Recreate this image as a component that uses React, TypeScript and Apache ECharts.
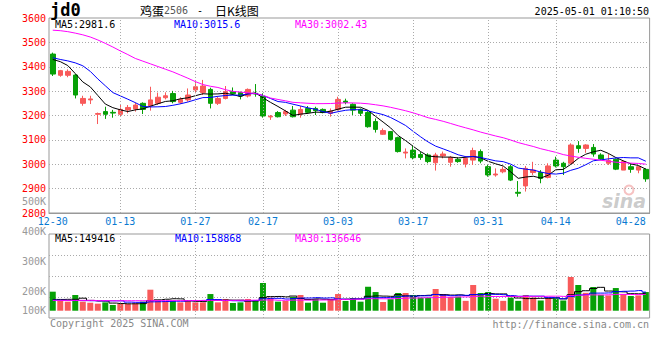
import React, { useEffect, useRef } from 'react';
import * as echarts from 'echarts';

const dates = [
  '12-30', '12-31', '01-02', '01-03', '01-06', '01-07', '01-08', '01-09', '01-10', '01-13',
  '01-14', '01-15', '01-16', '01-17', '01-20', '01-21', '01-22', '01-23', '01-24', '01-27',
  '02-05', '02-06', '02-07', '02-10', '02-11', '02-12', '02-13', '02-14', '02-17', '02-18',
  '02-19', '02-20', '02-21', '02-24', '02-25', '02-26', '02-27', '02-28', '03-03', '03-04',
  '03-05', '03-06', '03-07', '03-10', '03-11', '03-12', '03-13', '03-14', '03-17', '03-18',
  '03-19', '03-20', '03-21', '03-24', '03-25', '03-26', '03-27', '03-28', '03-31', '04-01',
  '04-02', '04-03', '04-07', '04-08', '04-09', '04-10', '04-11', '04-14', '04-15', '04-16',
  '04-17', '04-18', '04-21', '04-22', '04-23', '04-24', '04-25', '04-28', '04-29', '04-30',
];

const opens = [
  3452, 3365, 3365, 3366, 3250, 3264, 3205, 3216, 3213, 3205,
  3223, 3227, 3250, 3239, 3250, 3273, 3290, 3254, 3264, 3305,
  3294, 3307, 3250, 3270, 3298, 3294, 3280, 3291, 3277, 3194,
  3212, 3206, 3222, 3205, 3229, 3229, 3225, 3209, 3225, 3259,
  3246, 3225, 3212, 3175, 3123, 3134, 3109, 3046, 3058, 3040,
  3038, 3006, 3034, 3008, 3020, 3001, 3017, 3052, 2990, 2956,
  2969, 2990, 2885, 2911, 2966, 2966, 2946, 3017, 3004, 3004,
  3076, 3065, 3069, 3038, 3004, 3020, 2976, 2990, 2976, 2979,
];
const closes = [
  3370, 3384, 3381, 3284, 3270, 3268, 3208, 3205, 3210, 3225,
  3233, 3243, 3225, 3264, 3275, 3281, 3257, 3266, 3284, 3318,
  3321, 3250, 3270, 3298, 3290, 3280, 3307, 3288, 3198, 3197,
  3195, 3216, 3195, 3225, 3213, 3220, 3212, 3218, 3266, 3254,
  3222, 3209, 3154, 3143, 3138, 3102, 3052, 3050, 3027, 3028,
  3011, 3038, 3042, 3028, 3011, 3024, 3056, 3013, 2956, 2960,
  2979, 2935, 2881, 2983, 2976, 2942, 2993, 2993, 2990, 3079,
  3065, 3079, 3042, 3022, 3015, 2980, 3011, 2979, 2990, 2940,
];
const lows = [
  3362, 3359, 3357, 3270, 3240, 3247, 3165, 3186, 3191, 3198,
  3209, 3216, 3206, 3220, 3243, 3266, 3250, 3247, 3257, 3291,
  3284, 3229, 3243, 3266, 3284, 3266, 3274, 3277, 3191, 3182,
  3192, 3198, 3192, 3191, 3209, 3202, 3209, 3195, 3220, 3246,
  3202, 3198, 3150, 3130, 3120, 3097, 3048, 3024, 3020, 3018,
  3004, 2974, 3024, 2990, 3006, 2987, 2997, 3004, 2949, 2949,
  2963, 2931, 2867, 2888, 2956, 2922, 2942, 2987, 2956, 3001,
  3047, 3047, 3031, 3017, 2997, 2976, 2976, 2965, 2963, 2928,
];
const highs = [
  3458, 3387, 3389, 3370, 3281, 3281, 3212, 3236, 3223, 3243,
  3243, 3253, 3254, 3318, 3294, 3295, 3301, 3275, 3311, 3339,
  3346, 3314, 3277, 3321, 3315, 3298, 3311, 3329, 3291, 3202,
  3218, 3223, 3239, 3239, 3239, 3236, 3229, 3229, 3277, 3269,
  3250, 3229, 3218, 3188, 3147, 3136, 3113, 3065, 3076, 3050,
  3045, 3047, 3052, 3034, 3028, 3034, 3068, 3061, 2997, 2983,
  2990, 2997, 2931, 2993, 3010, 2976, 3004, 3031, 3010, 3086,
  3095, 3082, 3083, 3045, 3042, 3024, 3015, 3004, 2993, 2983,
];
const volumes = [
  162000, 83000, 77000, 134000, 77000, 68000, 60000, 71000, 49000, 57000,
  57000, 62000, 77000, 179000, 88000, 83000, 83000, 71000, 91000, 71000,
  71000, 142000, 71000, 100000, 66000, 71000, 100000, 83000, 236000, 111000,
  77000, 83000, 117000, 134000, 68000, 100000, 68000, 100000, 142000, 83000,
  108000, 77000, 204000, 159000, 74000, 98000, 151000, 151000, 134000, 111000,
  111000, 185000, 142000, 117000, 120000, 84000, 219000, 151000, 159000, 102000,
  84000, 111000, 84000, 134000, 112000, 87000, 112000, 106000, 87000, 287000,
  219000, 152000, 202000, 135000, 130000, 193000, 142000, 125000, 130000, 159000,
];

// moving-average values before enough history is on screen
const ma5Head = [3430, 3421, 3405, 3372];
const ma10Head = [3437, 3430, 3424, 3416, 3404, 3381, 3350, 3322, 3294];
const ma30Head = [
  3550, 3548, 3544, 3538, 3531, 3522, 3510, 3496, 3481, 3465,
  3450, 3434, 3423, 3412, 3401, 3390, 3379, 3366, 3353, 3339,
  3327, 3320, 3315, 3306, 3299, 3296, 3293, 3290, 3283,
];
const volMa5Head = [96000, 96000, 97000, 97000];
const volMa10Head = [90000, 89000, 88000, 87000, 86000, 85000, 84000, 84000, 84000];
const volMa30Head = [
  88000, 88000, 88000, 88000, 88000, 88000, 86000, 86000, 85000, 85000,
  85000, 85000, 85000, 86000, 86000, 86000, 86000, 86000, 86000, 87000,
  87000, 88000, 88000, 88000, 88000, 89000, 89000, 90000, 91000,
];

const labelDates = ['12-30', '01-13', '01-27', '02-17', '03-03', '03-17', '03-31', '04-14', '04-28'];
const gridDates = ['01-13', '01-27', '02-17', '03-03', '03-17', '03-31', '04-14'];

const priceMin = 2800;
const priceMax = 3600;
const priceStep = 100;
const volLabelMin = 100000;
const volLabelMax = 500000;
const volLabelStep = 100000;

const titleCode = 'jd0';
const titleName = '鸡蛋';
const titleContract = '2506';
const titleDash = '-';
const titleKind = '日K线图';
const timeStamp = '2025-05-01 01:10:50';
const priceMa5Text = 'MA5:2981.6';
const priceMa10Text = 'MA10:3015.6';
const priceMa30Text = 'MA30:3002.43';
const volMa5Text = 'MA5:149416';
const volMa10Text = 'MA10:158868';
const volMa30Text = 'MA30:136646';
const copyrightText = 'Copyright 2025 SINA.COM';
const urlText = 'http://finance.sina.com.cn';

const UP = '#f85a5a';
const DOWN = '#06a006';
const MONO = 'DejaVu Sans Mono';

function movingAvg(values: number[], n: number, head: number[]) {
  return values.map((_, i) => {
    if (i < n - 1) return head[i];
    let s = 0;
    for (let k = i - n + 1; k <= i; k++) s += values[k];
    return Math.round((s / n) * 100) / 100;
  });
}

function txt(text: string, x: number, y: number, fill: string, font: string, align = 'left') {
  return {
    type: 'text',
    x,
    y,
    silent: true,
    style: { text, fill, font, textAlign: align, textVerticalAlign: 'middle' },
  };
}

const dotted = { color: '#aaa', type: [1, 2], width: 1 };

export default function App() {
  const ref = useRef<HTMLDivElement>(null);
  useEffect(() => {
    const chart = echarts.init(ref.current!, null, { renderer: 'svg' });
    const candle = dates.map((_, i) => [opens[i], closes[i], lows[i], highs[i]]);
    const volData = volumes.map((v, i) => ({
      value: v,
      itemStyle: { color: closes[i] >= opens[i] ? UP : DOWN },
    }));
    const vLines = {
      silent: true,
      symbol: ['none', 'none'],
      label: { show: false },
      lineStyle: dotted,
      emphasis: { disabled: true },
      data: gridDates.map((d) => ({ xAxis: d })),
    };
    const line = (data: number[], color: string, xi: number, yi: number, step?: string) => ({
      type: 'line',
      data,
      xAxisIndex: xi,
      yAxisIndex: yi,
      showSymbol: false,
      symbol: 'none',
      step: step || false,
      silent: true,
      lineStyle: { color, width: 1 },
      itemStyle: { color },
    });
    const option: any = {
      animation: false,
      backgroundColor: '#fff',
      grid: [
        { left: 49, top: 18, width: 600.6, height: 195, show: true, borderColor: '#999', borderWidth: 1 },
        { left: 49, top: 234, width: 600.6, height: 84, show: true, borderColor: '#999', borderWidth: 1 },
        { left: 49, top: 201, width: 600.6, height: 120, show: false },
      ],
      xAxis: [
        {
          type: 'category', gridIndex: 0, data: dates, boundaryGap: true,
          axisLine: { show: true, lineStyle: { color: '#999' } },
          axisTick: { show: false },
          splitLine: { show: false },
          axisLabel: {
            interval: (_i: number, v: string) => labelDates.includes(v),
            color: '#0a7ad2', fontFamily: MONO, fontSize: 10, margin: 3,
          },
        },
        {
          type: 'category', gridIndex: 1, data: dates, boundaryGap: true,
          axisLine: { show: false }, axisTick: { show: false },
          axisLabel: { show: false }, splitLine: { show: false },
        },
        { type: 'category', gridIndex: 2, data: dates, show: false },
      ],
      yAxis: [
        {
          type: 'value', gridIndex: 0, min: priceMin, max: priceMax, interval: priceStep,
          axisLine: { show: false }, axisTick: { show: false },
          axisLabel: {
            color: '#f00', fontFamily: MONO, fontSize: 10, margin: 3,
            formatter: (v: number) => String(v),
          },
          splitLine: { show: true, showMinLine: false, showMaxLine: false, lineStyle: dotted },
        },
        {
          type: 'value', gridIndex: 1, min: -62000, max: 653000,
          axisLine: { show: false }, axisTick: { show: false },
          axisLabel: { show: false }, splitLine: { show: false },
        },
        {
          type: 'value', gridIndex: 1, min: 0, max: 4, interval: 1, position: 'left',
          axisLine: { show: false }, axisTick: { show: false },
          axisLabel: { show: false },
          splitLine: { show: true, showMinLine: false, showMaxLine: false, lineStyle: dotted },
        },
        {
          type: 'value', gridIndex: 2, min: volLabelMin, max: volLabelMax, interval: volLabelStep,
          axisLine: { show: false }, axisTick: { show: false }, splitLine: { show: false },
          axisLabel: {
            color: '#999', fontFamily: MONO, fontSize: 10, margin: 3,
            formatter: (v: number) => {
              const s = Math.round(v / 1000) + 'K';
              return v === volLabelMin ? '{lift|' + s + '}' : '{n|' + s + '}';
            },
            rich: {
              lift: { color: '#999', fontFamily: MONO, fontSize: 10, padding: [0, 0, 21, 0] },
              n: { color: '#999', fontFamily: MONO, fontSize: 10 },
            },
          },
        },
      ],
      series: [
        {
          type: 'candlestick', xAxisIndex: 0, yAxisIndex: 0, data: candle, barWidth: 5, silent: true,
          itemStyle: { color: UP, color0: DOWN, borderColor: UP, borderColor0: DOWN, borderWidth: 1 },
          markLine: vLines,
        },
        line(movingAvg(closes, 5, ma5Head), '#000', 0, 0),
        line(movingAvg(closes, 10, ma10Head), '#0000ff', 0, 0),
        line(movingAvg(closes, 30, ma30Head), '#ff00ff', 0, 0),
        {
          type: 'bar', xAxisIndex: 1, yAxisIndex: 1, data: volData, barWidth: 6, silent: true,
          markLine: vLines,
        },
        line(movingAvg(volumes, 5, volMa5Head), '#000', 1, 1, 'middle'),
        line(movingAvg(volumes, 10, volMa10Head), '#0000ff', 1, 1, 'middle'),
        line(movingAvg(volumes, 30, volMa30Head), '#ff00ff', 1, 1, 'middle'),
      ],
      graphic: [
        txt(titleCode, 50, 10, '#000', 'bold 17px "' + MONO + '"'),
        txt(titleName, 140, 10, '#000', '12px "Noto Sans CJK SC"'),
        txt(titleContract, 164, 10.5, '#555', '10px "' + MONO + '"'),
        txt(titleDash, 197, 10.5, '#000', '10px "' + MONO + '"'),
        txt(titleKind, 215, 10, '#000', '12px "Noto Sans CJK SC"'),
        txt(timeStamp, 649, 11.5, '#000', '10px "' + MONO + '"', 'right'),
        txt(priceMa5Text, 55, 24, '#000', '10px "' + MONO + '"'),
        txt(priceMa10Text, 174, 24, '#0000ff', '10px "' + MONO + '"'),
        txt(priceMa30Text, 295, 24, '#ff00ff', '10px "' + MONO + '"'),
        txt(volMa5Text, 55, 238.5, '#000', '10px "' + MONO + '"'),
        txt(volMa10Text, 175, 238.5, '#0000ff', '10px "' + MONO + '"'),
        txt(volMa30Text, 295, 238.5, '#ff00ff', '10px "' + MONO + '"'),
        txt(copyrightText, 50, 323.5, '#888', '10px "' + MONO + '"'),
        txt(urlText, 649, 324, '#888', '10px "' + MONO + '"', 'right'),
        {
          type: 'circle', silent: true,
          shape: { cx: 629, cy: 190, r: 4.5 },
          style: { fill: 'none', stroke: 'rgba(235,120,120,0.45)', lineWidth: 2 },
        },
        txt('sina', 602, 201, 'rgba(140,140,140,0.45)', 'italic bold 19px "DejaVu Sans"'),
      ],
    };
    chart.setOption(option);
    return () => chart.dispose();
  }, []);
  return <div ref={ref} style={{ position: 'fixed', left: 0, top: 0, width: 660, height: 360 }} />;
}
